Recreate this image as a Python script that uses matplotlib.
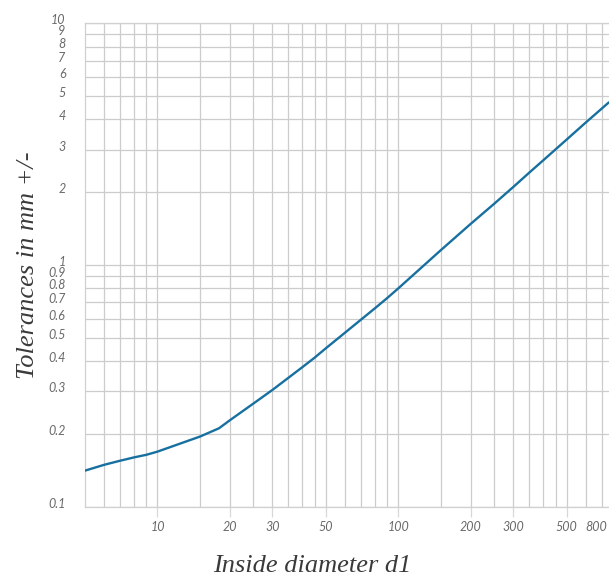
import matplotlib
matplotlib.use("Agg")
import matplotlib.pyplot as plt
from matplotlib.transforms import ScaledTranslation
import numpy as np

# data
diameter = [5, 6, 7, 8, 9, 10, 15, 18, 20, 25, 30, 40, 45, 50, 60, 70, 80, 90, 100,
            150, 200, 250, 300, 350, 400, 500, 600, 750]
tolerance = [0.141, 0.149, 0.155, 0.160, 0.164, 0.169, 0.195, 0.211, 0.228, 0.267, 0.304,
             0.378, 0.414, 0.452, 0.524, 0.594, 0.662, 0.730, 0.800,
             1.15, 1.48, 1.79, 2.10, 2.41, 2.71, 3.30, 3.88, 4.71]

x_ticks = [10, 20, 30, 50, 100, 200, 300, 500, 800]
x_grid = [6, 7, 8, 9, 10, 15, 20, 25, 30, 35, 40, 45, 50, 60, 70, 80, 90, 100,
          150, 200, 250, 300, 350, 400, 450, 500, 600, 700, 800, 900]
y_ticks = [0.1, 0.2, 0.3, 0.4, 0.5, 0.6, 0.7, 0.8, 0.9, 1, 2, 3, 4, 5, 6, 7, 8, 9, 10]
y_labels = ["0.1", "0.2", "0.3", "0.4", "0.5", "0.6", "0.7", "0.8", "0.9",
            "1", "2", "3", "4", "5", "6", "7", "8", "9", "10"]

W, H = 609, 577
fig = plt.figure(figsize=(W / 100, H / 100), dpi=100)
left, right, top, bottom = 85, 639, 23.3, 506.7
ax = fig.add_axes([left / W, 1 - bottom / H, (right - left) / W, (bottom - top) / H])
ax.set_xscale("log")
ax.set_yscale("log")
ax.set_xlim(5, 1000)
ax.set_ylim(0.1, 10)

grid_col = "#cccccc"
for xv in x_grid:
    ax.axvline(xv, color=grid_col, lw=0.9, zorder=1)
for yv in y_ticks:
    ax.axhline(yv, color=grid_col, lw=0.9, zorder=1)

ax.plot(diameter, tolerance, color="#17709f", lw=1.7, zorder=3,
        solid_capstyle="round", solid_joinstyle="round")

for s in ax.spines.values():
    s.set_color("#d0d0d0")
    s.set_linewidth(0.9)

ax.set_xticks(x_ticks)
ax.set_xticklabels([str(v) for v in x_ticks])
ax.xaxis.set_minor_locator(matplotlib.ticker.NullLocator())
ax.yaxis.set_minor_locator(matplotlib.ticker.NullLocator())
ax.set_yticks(y_ticks)
ax.set_yticklabels(y_labels)

ax.tick_params(axis="x", length=7, color="#d8d8d8", width=0.9, pad=3)
ax.tick_params(axis="y", length=0, pad=14)
for lab in ax.get_xticklabels() + ax.get_yticklabels():
    lab.set_fontfamily(["Lato", "DejaVu Sans"])
    lab.set_fontstyle("italic")
    lab.set_fontsize(9)
    lab.set_color("#6a6a6a")

off = ScaledTranslation(0, 4 / 100, fig.dpi_scale_trans)
for lab in ax.get_yticklabels():
    lab.set_transform(lab.get_transform() + off)
last = ax.get_xticklabels()[-1]
last.set_horizontalalignment("right")
last.set_transform(last.get_transform() + ScaledTranslation(-9 / 100, 0, fig.dpi_scale_trans))

label_font = dict(family=["Liberation Serif", "DejaVu Serif"], style="italic", size=19, color="#3a3a3a")
ax.set_xlabel("Inside diameter d1", **label_font)
ax.xaxis.set_label_coords((312 - left) / (right - left), -(566 - bottom) / (bottom - top))
ax.xaxis.label.set_verticalalignment("center")
ax.set_ylabel("Tolerances in mm +/-", **label_font)
ax.yaxis.set_label_coords(-(left - 28) / (right - left), 0.5)
ax.yaxis.label.set_verticalalignment("center")

fig.savefig("out.png", dpi=100)
